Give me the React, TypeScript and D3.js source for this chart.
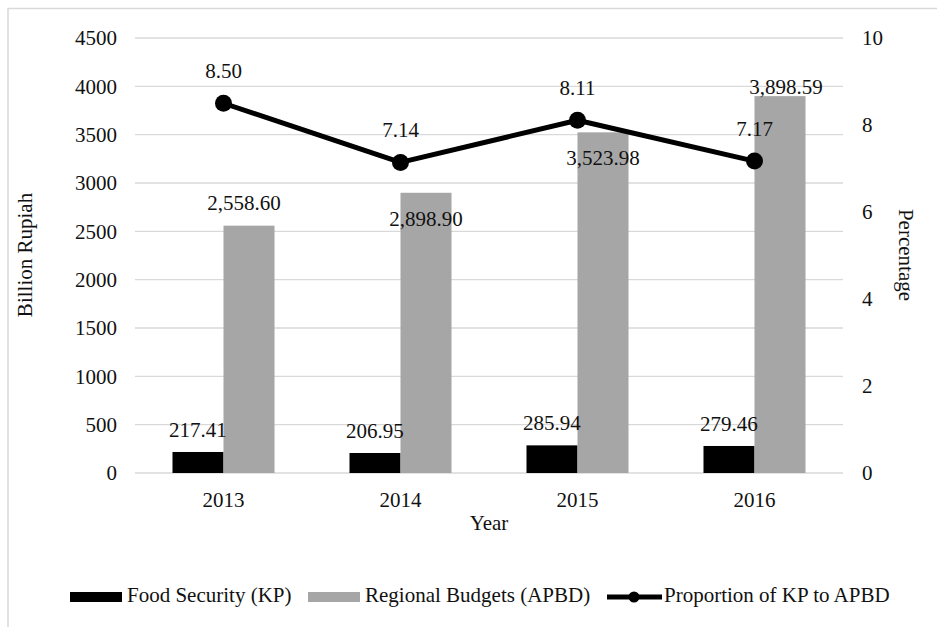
import * as d3 from 'd3';

const years = ['2013', '2014', '2015', '2016'];
const foodSecurity = [217.41, 206.95, 285.94, 279.46];
const regionalBudgets = [2558.6, 2898.9, 3523.98, 3898.59];
const proportion = [8.5, 7.14, 8.11, 7.17];
const leftTicks = [0, 500, 1000, 1500, 2000, 2500, 3000, 3500, 4000, 4500];
const rightTicks = [0, 2, 4, 6, 8, 10];

// label nudges (Excel placed these to avoid overlaps)
const apbdLabelDy = [-16, 33, 33, -2];
const apbdLabelDx = [-5, 0, 0, 6];

const W = 937;
const H = 627;
const FONT = '"Liberation Serif", "Times New Roman", "DejaVu Serif", serif';
const FS = 21;
const TEXT = '#111';
const GRID = '#d9d9d9';
const GRAY = '#a6a6a6';

const fmt = d3.format(',.2f');

export default function App() {
  const margin = { left: 135, right: 843, top: 38, bottom: 473 };

  const x = d3.scaleBand().domain(years).range([margin.left, margin.right]).padding(0);
  const xSub = d3
    .scaleBand()
    .domain(['kp', 'apbd'])
    .range([0, x.bandwidth()])
    .paddingInner(0)
    .paddingOuter(0.735);
  const yL = d3.scaleLinear().domain([0, 4500]).range([margin.bottom, margin.top]);
  const yR = d3.scaleLinear().domain([0, 10]).range([margin.bottom, margin.top]);

  const cx = (d: string) => (x(d) || 0) + x.bandwidth() / 2;

  const line = d3
    .line<number>()
    .x((_, i) => cx(years[i]))
    .y((d) => yR(d));

  return (
    <svg
      width={W}
      height={H}
      style={{ position: 'fixed', left: 0, top: 0, background: '#fff', fontFamily: FONT, fontSize: FS }}
    >
      <rect x={0} y={0} width={W} height={H} fill="#fff" />
      {/* outer frame */}
      <rect x={8} y={8.5} width={W + 20} height={H + 20} fill="none" stroke={GRID} strokeWidth={1.5} />

      {/* gridlines */}
      {leftTicks.map((t) => (
        <line key={t} x1={margin.left} x2={margin.right} y1={yL(t)} y2={yL(t)} stroke={GRID} strokeWidth={1.3} />
      ))}

      {/* left tick labels */}
      {leftTicks.map((t) => (
        <text key={t} x={117} y={yL(t)} dy="0.35em" textAnchor="end" fill={TEXT}>
          {t}
        </text>
      ))}

      {/* right tick labels */}
      {rightTicks.map((t) => (
        <text key={t} x={862} y={yR(t)} dy="0.35em" textAnchor="start" fill={TEXT}>
          {t}
        </text>
      ))}

      {/* bars */}
      {years.map((yr, i) => (
        <g key={yr} transform={`translate(${x(yr)},0)`}>
          <rect
            x={xSub('kp')}
            y={yL(foodSecurity[i])}
            width={xSub.bandwidth()}
            height={yL(0) - yL(foodSecurity[i])}
            fill="#000"
          />
          <rect
            x={xSub('apbd')}
            y={yL(regionalBudgets[i])}
            width={xSub.bandwidth()}
            height={yL(0) - yL(regionalBudgets[i])}
            fill={GRAY}
          />
        </g>
      ))}

      {/* bar labels */}
      {years.map((yr, i) => (
        <g key={yr} fill={TEXT} textAnchor="middle">
          <text x={(x(yr) || 0) + (xSub('kp') || 0) + xSub.bandwidth() / 2} y={yL(foodSecurity[i]) - 15}>
            {fmt(foodSecurity[i])}
          </text>
          <text
            x={(x(yr) || 0) + (xSub('apbd') || 0) + xSub.bandwidth() / 2 + apbdLabelDx[i]}
            y={yL(regionalBudgets[i]) + apbdLabelDy[i]}
          >
            {fmt(regionalBudgets[i])}
          </text>
        </g>
      ))}

      {/* proportion line */}
      <path d={line(proportion) || ''} fill="none" stroke="#000" strokeWidth={5} strokeLinejoin="round" />
      {proportion.map((p, i) => (
        <circle key={i} cx={cx(years[i])} cy={yR(p)} r={8.5} fill="#000" />
      ))}
      {proportion.map((p, i) => (
        <text key={i} x={cx(years[i])} y={yR(p) - 25} textAnchor="middle" fill={TEXT}>
          {p.toFixed(2)}
        </text>
      ))}

      {/* category labels */}
      {years.map((yr) => (
        <text key={yr} x={cx(yr)} y={507} textAnchor="middle" fill={TEXT}>
          {yr}
        </text>
      ))}

      {/* axis titles */}
      <text x={(margin.left + margin.right) / 2} y={530} textAnchor="middle" fill={TEXT}>
        Year
      </text>
      <text transform={`translate(32,255) rotate(-90)`} textAnchor="middle" fill={TEXT}>
        Billion Rupiah
      </text>
      <text transform={`translate(899,255) rotate(90)`} textAnchor="middle" fill={TEXT}>
        Percentage
      </text>

      {/* legend */}
      <g fill={TEXT}>
        <rect x={70} y={592} width={52} height={10} fill="#000" />
        <text x={127} y={602}>Food Security (KP)</text>
        <rect x={308} y={592} width={52} height={10} fill={GRAY} />
        <text x={365} y={602}>Regional Budgets (APBD)</text>
        <line x1={607} x2={662} y1={597} y2={597} stroke="#000" strokeWidth={5} />
        <circle cx={634} cy={597} r={5.5} fill="#000" />
        <text x={664} y={602}>Proportion of KP to APBD</text>
      </g>
    </svg>
  );
}
